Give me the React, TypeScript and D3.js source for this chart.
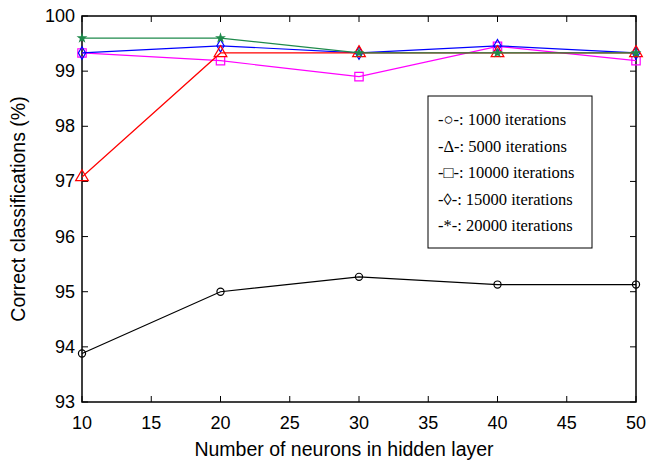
import React, { useEffect, useRef } from "react";
import * as d3 from "d3";

const neurons = [10, 20, 30, 40, 50];
const it1000 = [93.88, 95.0, 95.27, 95.13, 95.13];
const it5000 = [97.08, 99.33, 99.33, 99.33, 99.33];
const it10000 = [99.33, 99.19, 98.9, 99.45, 99.19];
const it15000 = [99.33, 99.46, 99.33, 99.46, 99.33];
const it20000 = [99.6, 99.6, 99.33, 99.33, 99.33];
const xTicks = [10, 15, 20, 25, 30, 35, 40, 45, 50];
const yTicks = [93, 94, 95, 96, 97, 98, 99, 100];
const legendLabels = [
  "-\u25CB-: 1000 iterations",
  "-\u0394-: 5000 iterations",
  "-\u25A1-: 10000 iterations",
  "-\u25CA-: 15000 iterations",
  "-*-: 20000 iterations",
];

const App = () => {
  const ref = useRef<SVGSVGElement>(null);

  useEffect(() => {
    const svg = d3.select(ref.current);
    svg.selectAll("*").remove();

    const dims = { width: 649, height: 462, left: 82, right: 636, top: 16, bottom: 402 };

    const xScale = d3.scaleLinear().domain([10, 50]).range([dims.left, dims.right]);
    const yScale = d3.scaleLinear().domain([93, 100]).range([dims.bottom, dims.top]);

    const font = "'Liberation Sans', Arial, sans-serif";

    // frame
    svg.append("rect")
      .attr("x", dims.left).attr("y", dims.top)
      .attr("width", dims.right - dims.left).attr("height", dims.bottom - dims.top)
      .attr("fill", "none").attr("stroke", "#000").attr("stroke-width", 1.5);

    // ticks (inward)
    const tl = 6;
    xTicks.forEach((t) => {
      const x = xScale(t);
      svg.append("line").attr("x1", x).attr("x2", x).attr("y1", dims.bottom).attr("y2", dims.bottom - tl).attr("stroke", "#000");
      svg.append("line").attr("x1", x).attr("x2", x).attr("y1", dims.top).attr("y2", dims.top + tl).attr("stroke", "#000");
      svg.append("text").attr("x", x).attr("y", dims.bottom + 27)
        .attr("text-anchor", "middle").style("font-family", font).style("font-size", "18px").text(t);
    });
    yTicks.forEach((t) => {
      const y = yScale(t);
      svg.append("line").attr("x1", dims.left).attr("x2", dims.left + tl).attr("y1", y).attr("y2", y).attr("stroke", "#000");
      svg.append("line").attr("x1", dims.right).attr("x2", dims.right - tl).attr("y1", y).attr("y2", y).attr("stroke", "#000");
      svg.append("text").attr("x", dims.left - 7).attr("y", y + 6)
        .attr("text-anchor", "end").style("font-family", font).style("font-size", "18px").text(t);
    });

    // labels
    svg.append("text").attr("x", (dims.left + dims.right) / 2 - 15).attr("y", 456)
      .attr("text-anchor", "middle").style("font-family", font).style("font-size", "19.5px")
      .text("Number of neurons in hidden layer");
    svg.append("text").attr("transform", `translate(25, ${(dims.top + dims.bottom) / 2}) rotate(-90)`)
      .attr("text-anchor", "middle").style("font-family", font).style("font-size", "19.5px")
      .text("Correct classifications (%)");

    const series = [
      { values: it1000, color: "#000000", symbol: d3.symbolCircle, size: 40, fill: "none" },
      { values: it10000, color: "#ff00ff", symbol: d3.symbolSquare, size: 70, fill: "none" },
      { values: it15000, color: "#0000ff", symbol: d3.symbolDiamond, size: 45, fill: "none" },
      { values: it5000, color: "#ff0000", symbol: d3.symbolTriangle, size: 70, fill: "none" },
      { values: it20000, color: "#1f8a4c", symbol: d3.symbolStar, size: 16, fill: "#1f8a4c" },
    ];

    const line = d3.line<number>()
      .x((d, i) => xScale(neurons[i]))
      .y((d) => yScale(d));

    series.forEach((s) => {
      svg.append("path").attr("d", line(s.values)).attr("fill", "none")
        .attr("stroke", s.color).attr("stroke-width", 1.2);
      svg.selectAll(null).data(s.values).enter().append("path")
        .attr("d", d3.symbol().type(s.symbol).size(s.size)())
        .attr("transform", (d, i) => `translate(${xScale(neurons[i])}, ${yScale(d)})`)
        .attr("fill", s.fill).attr("stroke", s.color).attr("stroke-width", 1.2);
    });

    // legend
    const lg = svg.append("g");
    lg.append("rect").attr("x", 428).attr("y", 96).attr("width", 164).attr("height", 152)
      .attr("fill", "#fff").attr("stroke", "#000").attr("stroke-width", 1);
    legendLabels.forEach((l, i) => {
      lg.append("text").attr("x", 438).attr("y", 125 + i * 26.5)
        .style("font-family", "'Liberation Serif', 'Times New Roman', serif").style("font-size", "16.5px")
        .text(l);
    });
  }, []);

  return (
    <div>
      <svg ref={ref} width={649} height={462} style={{ display: "block", position: "absolute", left: 0, top: 0, background: "#fff" }} />
    </div>
  );
};

export default App;
